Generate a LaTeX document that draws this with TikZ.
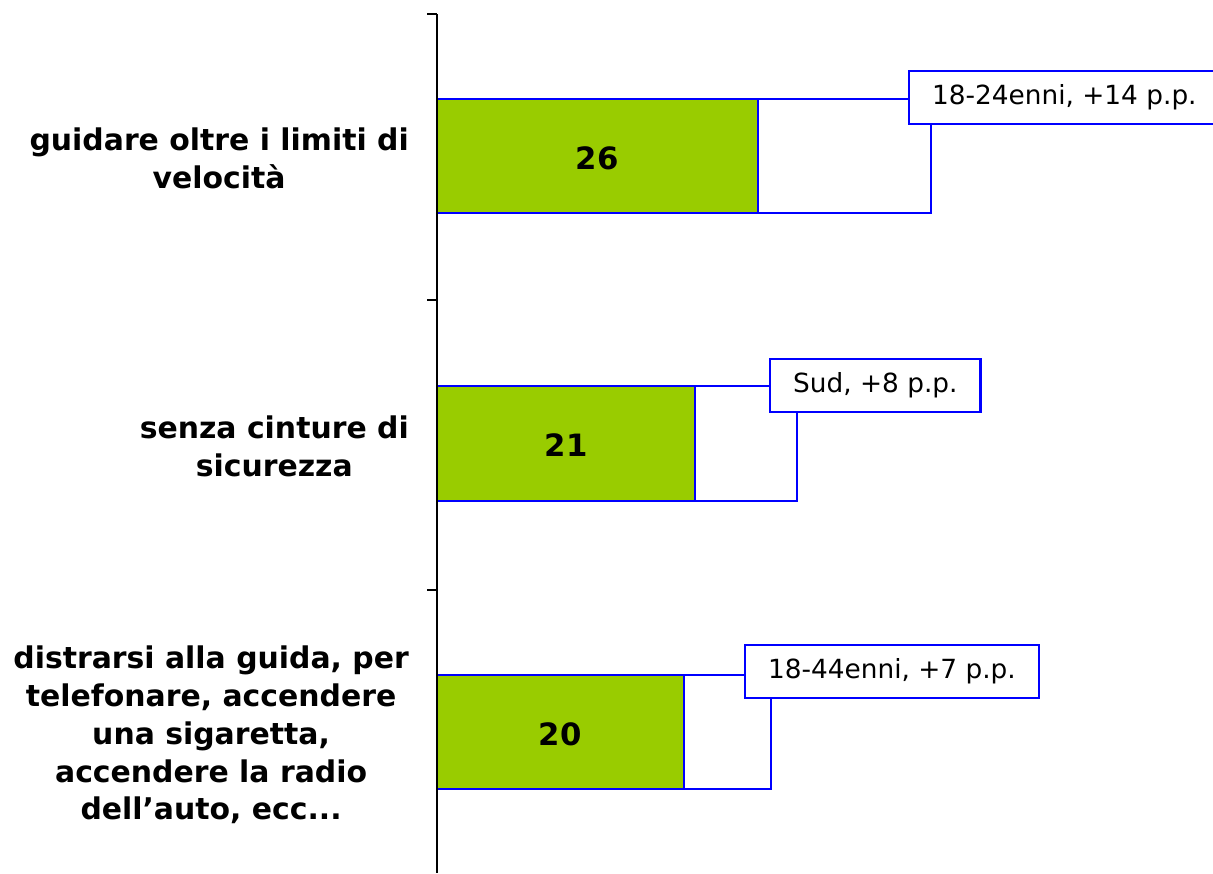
\documentclass[tikz,border=0pt]{standalone}
\usepackage{xcolor}
\usepackage{fontspec}
\usepackage{tikz}
\setmainfont{DejaVu Sans}
\definecolor{bargreen}{RGB}{153,204,0}
\definecolor{edgeblue}{RGB}{0,0,255}

\begin{document}
\begin{tikzpicture}[x=0.02cm,y=-0.02cm,
  catlabel/.style={anchor=east,align=center,font=\fontsize{17}{21.5}\selectfont\bfseries},
  barvalue/.style={font=\fontsize{17.5}{20}\selectfont\bfseries},
  notebox/.style={draw=edgeblue,line width=1.3pt,fill=white,anchor=west,minimum height=1.06cm,inner xsep=0.46cm,font=\fontsize{15}{18}\selectfont}]
\useasboundingbox (0,0) rectangle (1213,873);
% Bar 1: white part up to the extra points, then the green part
\draw[edgeblue,line width=1.3pt,fill=white] (437,99) rectangle (931,213);
\filldraw[fill=bargreen,draw=edgeblue,line width=1.3pt] (437,99) rectangle (758,213);
\node[barvalue] (val1) at (597,158) {26};
\node[catlabel] (cat1) at (415,158) {guidare oltre i limiti di\\velocità};
\node[notebox] (note1) at (908,97.5) {18-24enni, +14 p.p.};
% Bar 2
\draw[edgeblue,line width=1.3pt,fill=white] (437,386) rectangle (797,501);
\filldraw[fill=bargreen,draw=edgeblue,line width=1.3pt] (437,386) rectangle (695,501);
\node[barvalue] (val2) at (566,445) {21};
\node[catlabel] (cat2) at (415,446) {senza cinture di\\sicurezza};
\node[notebox] (note2) at (769,385.5) {Sud, +8 p.p.};
% Bar 3
\draw[edgeblue,line width=1.3pt,fill=white] (437,675) rectangle (771,789);
\filldraw[fill=bargreen,draw=edgeblue,line width=1.3pt] (437,675) rectangle (684,789);
\node[barvalue] (val3) at (560,734) {20};
\node[catlabel] (cat3) at (415,735) {distrarsi alla guida, per\\telefonare, accendere\\una sigaretta,\\accendere la radio\\dell’auto, ecc...};
\node[notebox] (note3) at (744,671.5) {18-44enni, +7 p.p.};
% Draw the axis with its ticks
\draw[line width=1.2pt] (437,14) -- (437,873);
\draw[line width=1.2pt] (427,14) -- (437,14);
\draw[line width=1.2pt] (427,300) -- (437,300);
\draw[line width=1.2pt] (427,590) -- (437,590);
\end{tikzpicture}
\end{document}
